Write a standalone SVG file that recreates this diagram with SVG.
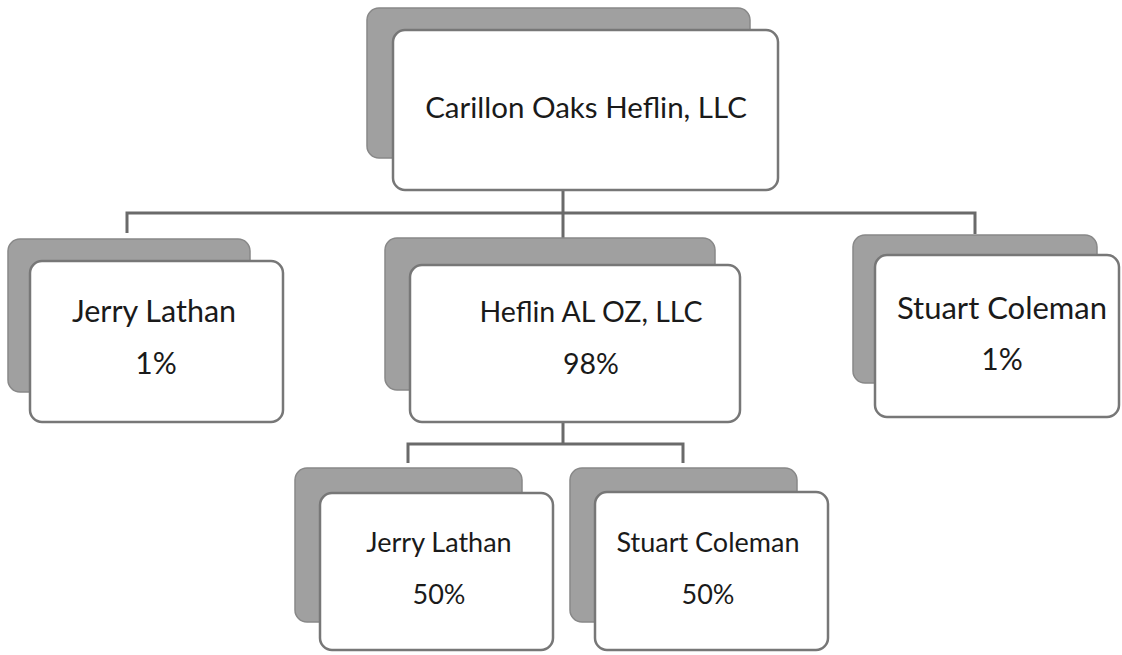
<svg xmlns="http://www.w3.org/2000/svg" width="1122" height="655" viewBox="0 0 1122 655">
<style>
.sh{fill:#a0a0a0;stroke:#888888;stroke-width:1.5}
.fr{fill:#ffffff;stroke:#777777;stroke-width:2.5}
.t{font-family:"Lato","Liberation Sans",sans-serif;fill:#1a1a1a;text-anchor:middle}
.c{fill:none;stroke:#6a6a6a;stroke-width:3}
</style>
<rect width="1122" height="655" fill="#ffffff"/>
<g id="connectors">
<path class="c" d="M563 190 V213 M127 233 V213 H975 V234 M563 213 V239"/>
<path class="c" d="M563 422 V444 M408 463 V444 H683 V463"/>
</g>
<g id="n-carillon">
<rect class="sh" x="367" y="8" width="383" height="150" rx="12"/>
<rect class="fr" x="393" y="30" width="385" height="160" rx="12"/>
<text class="t" x="586" y="118" font-size="29.5">Carillon Oaks Heflin, LLC</text>
</g>
<g id="n-jerry1">
<rect class="sh" x="8" y="239" width="242" height="153" rx="12"/>
<rect class="fr" x="30" y="261" width="253" height="161" rx="12"/>
<text class="t" x="154" y="322" font-size="30.5">Jerry Lathan</text>
<text class="t" x="156" y="374" font-size="30">1%</text>
</g>
<g id="n-heflin">
<rect class="sh" x="385" y="238" width="330" height="152" rx="12"/>
<rect class="fr" x="410" y="265" width="330" height="157" rx="12"/>
<text class="t" x="591" y="322" font-size="28.5">Heflin AL OZ, LLC</text>
<text class="t" x="591" y="374" font-size="28.5">98%</text>
</g>
<g id="n-stuart1">
<rect class="sh" x="853" y="235" width="244" height="148" rx="12"/>
<rect class="fr" x="875" y="255" width="244" height="162" rx="12"/>
<text class="t" x="1002" y="319" font-size="31">Stuart Coleman</text>
<text class="t" x="1002" y="370" font-size="30">1%</text>
</g>
<g id="n-jerry2">
<rect class="sh" x="295" y="468" width="227" height="154" rx="12"/>
<rect class="fr" x="320" y="493" width="233" height="157" rx="12"/>
<text class="t" x="439" y="552" font-size="27">Jerry Lathan</text>
<text class="t" x="439" y="604" font-size="27">50%</text>
</g>
<g id="n-stuart2">
<rect class="sh" x="570" y="468" width="227" height="154" rx="12"/>
<rect class="fr" x="595" y="492" width="233" height="158" rx="12"/>
<text class="t" x="708" y="552" font-size="27">Stuart Coleman</text>
<text class="t" x="708" y="604" font-size="27">50%</text>
</g>
</svg>
